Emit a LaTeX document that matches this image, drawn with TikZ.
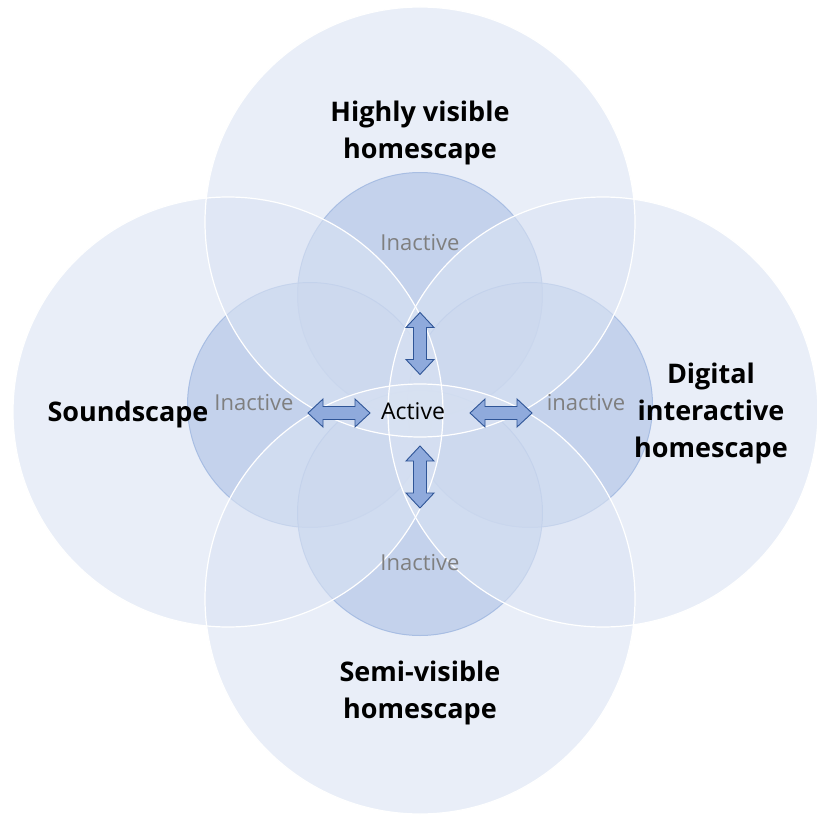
\documentclass[tikz,border=0pt]{standalone}
\usepackage{fontspec}
\setmainfont{Open Sans}

\definecolor{ringfill}{HTML}{DAE3F3}
\definecolor{corefill}{HTML}{7E9ED4}
\definecolor{coreline}{HTML}{4472C4}
\definecolor{arrowfill}{HTML}{8FAADC}
\definecolor{arrowline}{HTML}{2F5597}
\definecolor{idlegray}{HTML}{7F7F7F}

\begin{document}
\begin{tikzpicture}[x=1pt,y=-1pt,
  core/.style={fill=corefill,fill opacity=0.7,draw=coreline,draw opacity=0.8,line width=1pt},
  ring/.style={fill=ringfill,fill opacity=0.6},
  rim/.style={draw=white,line width=1.2pt},
  pics/twoway/.style={code={
    \path[draw=arrowline,fill=arrowfill,line width=0.9pt,line join=miter]
      (-31,0) -- (-16,-14) -- (-16,-6.5) -- (16,-6.5) -- (16,-14) -- (31,0)
      -- (16,14) -- (16,6.5) -- (-16,6.5) -- (-16,14) -- cycle;}},
  title/.style={font=\bfseries\fontsize{27}{37}\selectfont,align=center},
  idle/.style={text=idlegray,font=\fontsize{22}{26}\selectfont}]
  \useasboundingbox (0,0) rectangle (817,816);
  \path[core] (420,295) circle[radius=122.5pt];
  \path[core] (310,405) circle[radius=122.5pt];
  \path[core] (530,405) circle[radius=122.5pt];
  \path[core] (420,513) circle[radius=122.5pt];
  \path[ring] (420,222) circle[radius=215pt];
  \path[ring] (228,412) circle[radius=215pt];
  \path[ring] (603,412) circle[radius=215pt];
  \path[ring] (420,599) circle[radius=215pt];
  \draw[rim] (420,222) circle[radius=215pt];
  \draw[rim] (228,412) circle[radius=215pt];
  \draw[rim] (603,412) circle[radius=215pt];
  \draw[rim] (420,599) circle[radius=215pt];

  \node[title] (high) at (420,133) {Highly visible\\homescape};
  \node[title] (semi) at (420,693) {Semi-visible\\homescape};
  \node[title] (digital) at (711,413) {Digital\\interactive\\homescape};
  \node[title] (sound) at (128,414) {Soundscape};

  \node[font=\fontsize{23}{27}\selectfont] (active) at (413,411) {Active};
  \node[idle] (inTop) at (420,243) {Inactive};
  \node[idle] (inLeft) at (254,403) {Inactive};
  \node[idle] (inRight) at (586,403) {inactive};
  \node[idle] (inBottom) at (420,563) {Inactive};

  \pic[rotate=90] (upArrow) at (420,343.5) {twoway};
  \pic[rotate=90] (downArrow) at (420,477) {twoway};
  \pic (leftArrow) at (339,413) {twoway};
  \pic (rightArrow) at (501,413) {twoway};
\end{tikzpicture}
\end{document}
